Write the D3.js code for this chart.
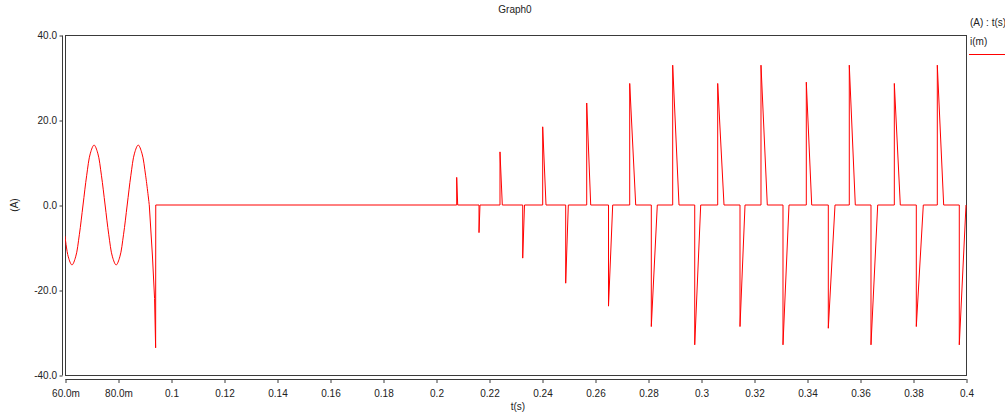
<!DOCTYPE html>
<html>
<head>
<meta charset="utf-8">
<script src="https://cdn.jsdelivr.net/npm/d3@7"></script>
<style>
  html, body { margin: 0; padding: 0; background: #fff; }
  svg { display: block; font-family: "Liberation Sans", Arial, sans-serif; }
</style>
</head>
<body>
<svg id="chart" width="1005" height="415"></svg>
<script>
// Inductor current i(m) versus time, transient simulation.

// Sinusoidal part of the run, before the breaker opens (t in s, i in A)
const sineT = [0.0600, 0.06124, 0.06263, 0.06402, 0.06541, 0.0668, 0.06819, 0.06958,
               0.07097, 0.07236, 0.07374, 0.07513, 0.07652, 0.07791, 0.0793, 0.08069,
               0.08208, 0.08347, 0.08486, 0.08624, 0.08763, 0.08902, 0.09041, 0.0918];
const sineI = [-7.3, -12.2, -14.1, -12.2, -7.0, 0.0, 7.0, 12.2,
               14.1, 12.2, 7.0, 0.0, -7.0, -12.2, -14.1, -12.2,
               -7.0, 0.0, 7.0, 12.2, 14.1, 12.2, 7.0, 0.0];

// Interruption: fast fall then snap back to zero
const breakT = [0.0918, 0.0930, 0.0938, 0.0942, 0.09425];
const breakI = [0.0, -12.0, -22.0, -33.6, 0.0];

// Switching pulses after re-energisation: onset time, peak current, time back at zero
const pulseOn   = [0.20781, 0.21623, 0.22415, 0.23272, 0.24026, 0.24894, 0.25687, 0.2651,
                   0.2731, 0.28125, 0.28932, 0.29763, 0.3063, 0.31472, 0.32264, 0.33094,
                   0.33974, 0.34804, 0.35596, 0.36415, 0.37295, 0.38125, 0.38917, 0.39747];
const pulsePeak = [6.5, -6.5, 12.5, -12.5, 18.4, -18.4, 24.0, -23.8,
                   28.6, -28.6, 32.9, -32.9, 28.6, -28.6, 32.9, -32.9,
                   28.9, -29.0, 32.9, -32.9, 28.6, -28.6, 32.9, -32.9];
const pulseOff  = [0.20819, 0.2166, 0.22502, 0.2334, 0.24151, 0.24993, 0.25838, 0.26668,
                   0.27536, 0.28351, 0.2917, 0.29989, 0.30868, 0.31661, 0.32502, 0.33321,
                   0.34178, 0.35057, 0.35823, 0.36668, 0.37521, 0.38389, 0.39158, 0.4];

const xTicks = [0.06, 0.08, 0.1, 0.12, 0.14, 0.16, 0.18, 0.2, 0.22, 0.24, 0.26, 0.28, 0.3, 0.32, 0.34, 0.36, 0.38, 0.4];
const xTickLabels = ["60.0m", "80.0m", "0.1", "0.12", "0.14", "0.16", "0.18", "0.2", "0.22", "0.24",
                     "0.26", "0.28", "0.3", "0.32", "0.34", "0.36", "0.38", "0.4"];
const yTicks = [40, 20, 0, -20, -40];
const yTickLabels = ["40.0", "20.0", "0.0", "-20.0", "-40.0"];

const svg = d3.select("#chart");
const plot = { left: 65, top: 35, right: 966, bottom: 375 };
const axisColor = "#3a3a3a";
const textColor = "#222";

const x = d3.scaleLinear().domain([0.06, 0.4]).range([plot.left, plot.right]);
const y = d3.scaleLinear().domain([-40, 40]).range([plot.bottom, plot.top]);

// Title
svg.append("text").attr("x", 515).attr("y", 13).attr("text-anchor", "middle")
  .attr("font-size", 10).attr("fill", textColor).text("Graph0");

// Plot frame
svg.append("rect")
  .attr("x", plot.left + 0.5).attr("y", plot.top + 0.5)
  .attr("width", plot.right - plot.left).attr("height", plot.bottom - plot.top)
  .attr("fill", "none").attr("stroke", axisColor).attr("stroke-width", 1);

// Y axis, offset to the left of the frame
const yAxis = d3.axisLeft(y).tickValues(yTicks)
  .tickFormat((d, i) => yTickLabels[i]).tickSize(3).tickPadding(2);
const gy = svg.append("g").attr("transform", `translate(${plot.left - 3},0.5)`).call(yAxis);
gy.select(".domain").attr("stroke", axisColor).attr("d", `M0.5,${plot.top}V${plot.bottom}`);
gy.selectAll(".tick line").attr("stroke", axisColor).attr("x1", 0.5).attr("x2", -2.5);
gy.selectAll(".tick text").attr("font-size", 10).attr("fill", textColor)
  .attr("font-family", "Liberation Sans, Arial, sans-serif");

// X axis, offset below the frame
const xAxis = d3.axisBottom(x).tickValues(xTicks)
  .tickFormat((d, i) => xTickLabels[i]).tickSize(4).tickPadding(7);
const gx = svg.append("g").attr("transform", `translate(0.5,${plot.bottom + 4})`).call(xAxis);
gx.select(".domain").attr("stroke", axisColor).attr("d", `M${plot.left},0.5H${plot.right}`);
gx.selectAll(".tick line").attr("stroke", axisColor);
gx.selectAll(".tick text").attr("font-size", 10).attr("fill", textColor)
  .attr("font-family", "Liberation Sans, Arial, sans-serif");

// Axis titles
svg.append("text").attr("x", 518).attr("y", 410).attr("text-anchor", "middle")
  .attr("font-size", 10).attr("fill", textColor).text("t(s)");
svg.append("text").attr("transform", `translate(18,205) rotate(-90)`)
  .attr("text-anchor", "middle").attr("font-size", 10).attr("fill", textColor).text("(A)");

// Series
const sinePts = sineT.map((t, i) => [t, sineI[i]]);
const restPts = breakT.map((t, i) => [t, breakI[i]]);
pulseOn.forEach((t, k) => {
  restPts.push([t, 0], [t, pulsePeak[k]], [pulseOff[k], 0]);
});

const clip = svg.append("clipPath").attr("id", "plotClip").append("rect")
  .attr("x", plot.left).attr("y", plot.top - 2)
  .attr("width", plot.right - plot.left + 1).attr("height", plot.bottom - plot.top + 4);

const g = svg.append("g").attr("clip-path", "url(#plotClip)");
g.append("path").datum(sinePts)
  .attr("fill", "none").attr("stroke", "#ff0000").attr("stroke-width", 1)
  .attr("d", d3.line().x(d => x(d[0])).y(d => y(d[1])).curve(d3.curveCatmullRom.alpha(0.5)));
g.append("path").datum(restPts)
  .attr("fill", "none").attr("stroke", "#ff0000").attr("stroke-width", 1)
  .attr("d", d3.line().x(d => x(d[0])).y(d => y(d[1])));

// Legend
svg.append("text").attr("x", 970).attr("y", 26).attr("font-size", 10).attr("fill", textColor).text("(A) : t(s)");
svg.append("text").attr("x", 970).attr("y", 45).attr("font-size", 10).attr("fill", textColor).text("i(m)");
svg.append("line").attr("x1", 969).attr("x2", 1005).attr("y1", 54.5).attr("y2", 54.5)
  .attr("stroke", "#ff0000").attr("stroke-width", 1);
</script>
</body>
</html>
